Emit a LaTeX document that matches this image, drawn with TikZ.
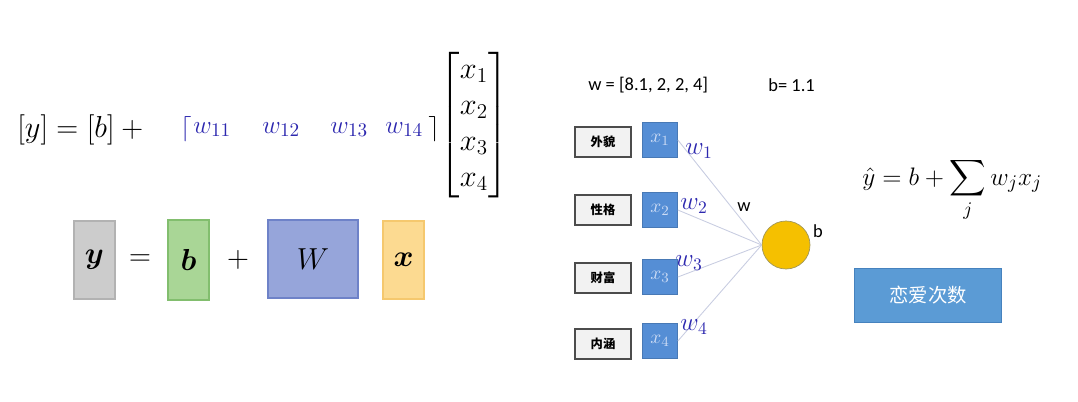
\documentclass[tikz,border=0pt]{standalone}
\usepackage{amsmath}
\usepackage{fontspec}
\setsansfont{Carlito}
\newfontfamily\cjk{Noto Sans CJK SC}
\definecolor{ygray}{RGB}{204,204,204}
\definecolor{ygrayline}{RGB}{178,178,178}
\definecolor{bgreen}{RGB}{169,214,150}
\definecolor{bgreenline}{RGB}{130,190,110}
\definecolor{wblue}{RGB}{150,165,218}
\definecolor{wblueline}{RGB}{110,130,200}
\definecolor{xyellow}{RGB}{252,218,145}
\definecolor{xyellowline}{RGB}{245,200,110}
\definecolor{wtext}{RGB}{45,40,175}
\definecolor{xblue}{RGB}{85,142,213}
\definecolor{xtext}{RGB}{205,220,245}
\definecolor{nodeyel}{RGB}{245,192,0}
\definecolor{nodeline}{RGB}{160,150,90}
\definecolor{linkgray}{RGB}{200,205,225}
\definecolor{btnblue}{RGB}{91,155,213}
\definecolor{btnline}{RGB}{70,130,190}
\begin{document}
\begin{tikzpicture}[x=0.02cm, y=-0.02cm,
  eq/.style={inner sep=0pt, font=\fontsize{18}{21}\selectfont},
  wt/.style={inner sep=0pt, text=wtext, font=\fontsize{15}{18}\selectfont},
  blk/.style={draw, line width=0.6pt, minimum width=0.82cm, minimum height=1.56cm, inner sep=0pt, font=\fontsize{18}{21}\selectfont},
  feat/.style={draw=black!70, line width=0.8pt, fill=black!5, minimum width=1.12cm, minimum height=0.6cm, inner sep=0pt, font=\cjk\bfseries\fontsize{7}{8}\selectfont},
  xin/.style={draw=xblue!85!black, fill=xblue, minimum size=0.7cm, inner sep=0pt, text=xtext, font=\fontsize{11}{13}\selectfont},
  lab/.style={inner sep=0pt, font=\sffamily\fontsize{10.5}{12}\selectfont},
  link/.style={draw=linkgray, line width=0.5pt}]
\useasboundingbox (0,0) rectangle (1078,402);

% matrix form
\node[eq, anchor=base west] (lhs) at (17,137) {$[y] = [b] + {}$};
\node[wt, anchor=base west] (lb) at (180,135) {$\lceil$};
\node[wt, anchor=base west] (w11) at (193,133) {$w_{11}$};
\node[wt, anchor=base west] (w12) at (262,133) {$w_{12}$};
\node[wt, anchor=base west] (w13) at (330,133) {$w_{13}$};
\node[wt, anchor=base west] (w14) at (385,133) {$w_{14}$};
\node[wt, anchor=base west, text=black] (rb) at (428,135) {$\rceil$};
\node[eq, font=\fontsize{17}{20.5}\selectfont] (xvec) at (474,125) {\setlength\arraycolsep{2pt}$\begin{bmatrix}x_1\\x_2\\x_3\\x_4\end{bmatrix}$};

% block form
\node[blk, fill=ygray, draw=ygrayline] (yb) at (94.5,260) {$\boldsymbol{y}$};
\node[eq] (eqs) at (140,260) {$=$};
\node[blk, fill=bgreen, draw=bgreenline, minimum height=1.6cm] (bb) at (188.5,260) {$\boldsymbol{b}$};
\node[eq] (pls) at (238,260) {$+$};
\node[blk, fill=wblue, draw=wblueline, minimum width=1.8cm] (Wb) at (313,259) {$W$};
\node[blk, fill=xyellow, draw=xyellowline] (xb) at (403.5,260) {$\boldsymbol{x}$};

% neuron
\node[lab, anchor=west] (wval) at (588,85) {w = [8.1, 2, 2, 4]};
\node[lab, anchor=west] (bval) at (768,85) {b= 1.1};

\node[feat] (f1) at (603,142) {外貌};
\node[feat] (f2) at (603,210) {性格};
\node[feat] (f3) at (603,278) {财富};
\node[feat] (f4) at (603,344) {内涵};

\node[xin] (x1) at (660,140) {$x_1$};
\node[xin] (x2) at (660,210) {$x_2$};
\node[xin] (x3) at (660,277) {$x_3$};
\node[xin] (x4) at (660,341) {$x_4$};

\node[circle, draw=nodeline, fill=nodeyel, minimum size=0.96cm, inner sep=0pt] (out) at (786,245) {};

\foreach \i in {1,...,4}
  \draw[link] (x\i.east) -- (out.west);

\node[wt, font=\fontsize{14}{16}\selectfont] (wl1) at (699,151) {$w_1$};
\node[wt, font=\fontsize{14}{16}\selectfont] (wl2) at (694,206) {$w_2$};
\node[wt, font=\fontsize{14}{16}\selectfont] (wl3) at (689,263) {$w_3$};
\node[wt, font=\fontsize{14}{16}\selectfont] (wl4) at (694,327) {$w_4$};

\node[lab] (wlab) at (744,207) {w};
\node[lab] (blab) at (818,231) {b};

\node[anchor=base west, inner sep=0pt, font=\fontsize{15.8}{19}\selectfont] (sumeq) at (862,185) {$\displaystyle \hat{y} = b + \sum_j w_j x_j$};

\node[draw=btnline, fill=btnblue, minimum width=2.94cm, minimum height=1.08cm, inner sep=0pt, text=white, font=\cjk\fontsize{11}{13}\selectfont] (btn) at (928,295) {恋爱次数};
\end{tikzpicture}
\end{document}
